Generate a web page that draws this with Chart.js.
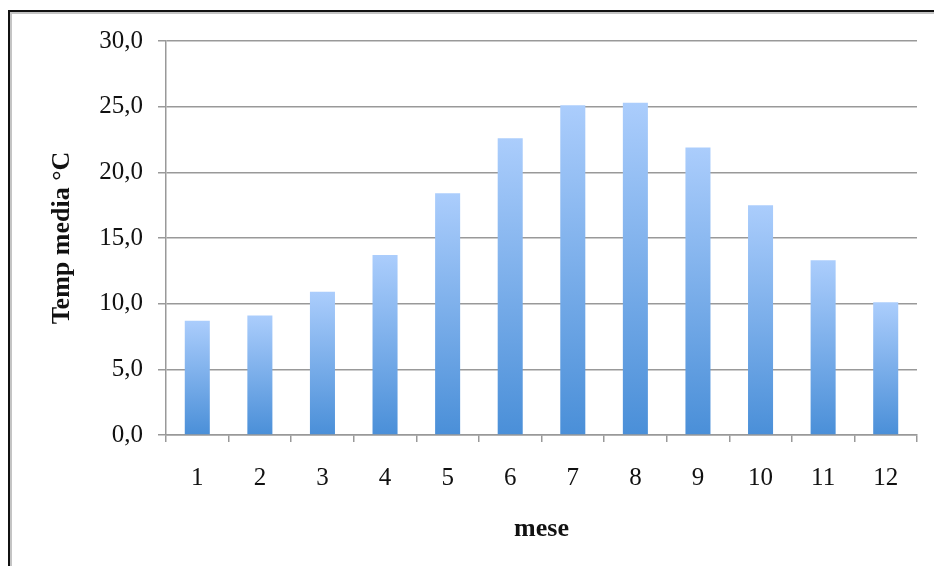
<!DOCTYPE html>
<html>
<head>
<meta charset="utf-8">
<script src="https://cdn.jsdelivr.net/npm/chart.js@4/dist/chart.umd.min.js"></script>
<style>
  html, body { margin: 0; padding: 0; background: #fff; overflow: hidden; }
  #frame {
    position: absolute; left: 8px; top: 10px; width: 940px; height: 570px;
    border-top: 2px solid #111; border-left: 2px solid #111;
    box-shadow: inset 2px 2px 0 #c4c4c4;
  }
  #chart { position: absolute; left: 0; top: 0; }
</style>
</head>
<body>
<div id="frame"></div>
<canvas id="chart" width="934" height="566"></canvas>
<script>
// mesi e temperatura media
const mesi = ['1', '2', '3', '4', '5', '6', '7', '8', '9', '10', '11', '12'];
const tempMedia = [8.7, 9.1, 10.9, 13.7, 18.4, 22.6, 25.1, 25.3, 21.9, 17.5, 13.3, 10.1];
const yTicks = [0, 5, 10, 15, 20, 25, 30];

const serif = "'Liberation Serif', 'DejaVu Serif', serif";

function barFill(c) {
  const chart = c.chart;
  if (!chart.chartArea || c.type !== 'data') return '#6fa6e8';
  const y = chart.scales.y;
  const top = y.getPixelForValue(c.raw);
  const bottom = y.getPixelForValue(0);
  const g = chart.ctx.createLinearGradient(0, top, 0, bottom);
  g.addColorStop(0, '#abcdfc');
  g.addColorStop(1, '#4a8fd8');
  return g;
}

const ctx = document.getElementById('chart');
const chart = new Chart(ctx, {
  type: 'bar',
  data: {
    labels: mesi,
    datasets: [{
      label: 'Temp media °C',
      data: tempMedia,
      backgroundColor: barFill,
      borderWidth: 0,
      barPercentage: 0.4,
      categoryPercentage: 1.0
    }]
  },
  options: {
    responsive: false,
    animation: false,
    events: [],
    layout: { padding: { left: 47, right: 17, top: 41, bottom: 21 } },
    plugins: {
      legend: { display: false },
      tooltip: { enabled: false }
    },
    scales: {
      x: {
        grid: {
          offset: true,
          drawOnChartArea: false,
          drawTicks: true,
          tickLength: 7,
          color: '#999',
          lineWidth: 1.5
        },
        border: { color: '#999', width: 1.5 },
        ticks: {
          color: '#111',
          padding: 21,
          font: { family: serif, size: 25 }
        },
        title: {
          display: true,
          text: 'mese',
          color: '#111',
          padding: 0,
          font: { family: serif, size: 26, weight: 'bold', lineHeight: 1.2 }
        },
        afterFit: function (s) { s.height = 110; }
      },
      y: {
        min: 0,
        max: 30,
        afterBuildTicks: function (s) { s.ticks = yTicks.map(v => ({ value: v })); },
        grid: {
          color: '#999',
          lineWidth: 1.5,
          tickLength: 8
        },
        border: { color: '#999', width: 1.5 },
        ticks: {
          color: '#111',
          padding: 15,
          font: { family: serif, size: 25 },
          callback: function (v) { return v.toFixed(1).replace('.', ','); }
        },
        title: {
          display: true,
          text: 'Temp media °C',
          color: '#111',
          padding: 0,
          font: { family: serif, size: 26, weight: 'bold', lineHeight: 1.2 }
        },
        afterFit: function (s) { s.width = 119; }
      }
    }
  }
});
</script>
</body>
</html>
